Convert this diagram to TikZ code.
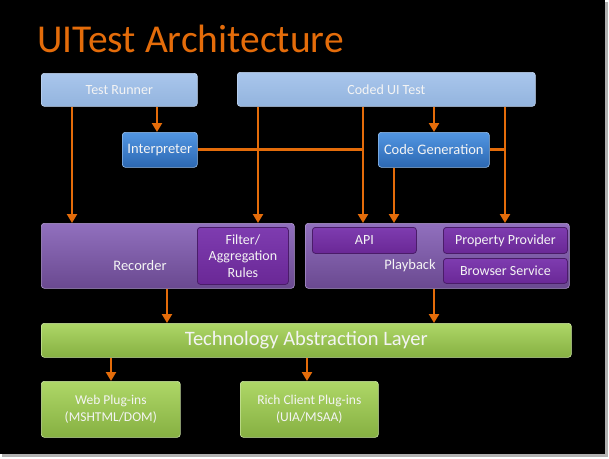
\documentclass[tikz,border=0pt]{standalone}
\usepackage{fontspec}
\setmainfont{Carlito}
\usetikzlibrary{arrows.meta}
\definecolor{orng}{HTML}{E46C0A}
\definecolor{lbtop}{HTML}{A9C6EC}
\definecolor{lbbot}{HTML}{93B4DE}
\definecolor{bltop}{HTML}{5296E2}
\definecolor{blbot}{HTML}{2C68B2}
\definecolor{putop}{HTML}{9170BE}
\definecolor{pubot}{HTML}{6A4990}
\definecolor{pitop}{HTML}{7E3CB0}
\definecolor{pibot}{HTML}{6A2896}
\definecolor{grtop}{HTML}{AED767}
\definecolor{grbot}{HTML}{86B042}
\definecolor{txtw}{HTML}{F4F4F4}
\tikzset{
  x=1pt, y=-1pt,
  box/.style={rounded corners=3pt, anchor=north west, inner sep=0pt, text=txtw,
    font=\fontsize{14}{16.5}\selectfont, align=center},
  lbox/.style={box, top color=lbtop, bottom color=lbbot, draw=lbtop!70!white, line width=0.6pt},
  bbox/.style={box, top color=bltop, bottom color=blbot, draw=bltop!60!white, line width=0.6pt, font=\fontsize{14.5}{16.5}\selectfont},
  pbox/.style={box, top color=putop, bottom color=pubot, draw=putop!70!white, line width=0.6pt},
  ibox/.style={box, top color=pitop, bottom color=pibot, draw=pibot!70!black, line width=0.8pt},
  gbox/.style={box, top color=grtop, bottom color=grbot, draw=grtop!60!white, line width=0.6pt},
  lbl/.style={text=txtw, font=\fontsize{14.5}{16.5}\selectfont, inner sep=0pt},
  arr/.style={draw=orng, line width=2.8pt, -{Triangle[width=10pt,length=9pt]}},
  ln/.style={draw=orng, line width=2.8pt},
}
\begin{document}
\begin{tikzpicture}
\useasboundingbox (0,0) rectangle (609,458);
\fill[white] (0,0) rectangle (609,458);
\fill[gray!60] (2,2) rectangle (608,457);
\fill[black] (0,0) rectangle (605,454);

\node[anchor=base west, text=orng, font=\fontsize{39.5}{42}\selectfont, inner sep=0pt] (title) at (37,52) {UITest Architecture};

% top row
\node[lbox, minimum width=156, minimum height=33] (tr) at (41,73) {Test Runner};
\node[lbox, minimum width=298, minimum height=34] (cut) at (237,72) {Coded UI Test};

% blue boxes
\node[bbox, minimum width=75, minimum height=35] (interp) at (122,132) {Interpreter};
\node[bbox, minimum width=111, minimum height=35] (cg) at (378,132) {Code Generation};

% recorder
\node[pbox, minimum width=253, minimum height=65] (rec) at (41,223) {};
\node[lbl] (rectxt) at (140,266) {Recorder};
\node[ibox, minimum width=91, minimum height=57] (filt) at (197,227) {Filter/\\Aggregation\\Rules};

% playback
\node[pbox, minimum width=264, minimum height=65] (play) at (305,223) {};
\node[lbl] (playtxt) at (410,266) {Playback};
\node[ibox, minimum width=104, minimum height=26] (api) at (312,227) {API};
\node[ibox, minimum width=124, minimum height=26] (pp) at (443,227) {Property Provider};
\node[ibox, minimum width=124, minimum height=25] (bs) at (443,258) {Browser Service};

% TAL
\node[gbox, minimum width=530, minimum height=34, font=\fontsize{20.5}{22}\selectfont] (tal) at (41,323) {Technology Abstraction Layer};
\node[gbox, minimum width=139, minimum height=56, font=\fontsize{13.5}{17}\selectfont] (web) at (41,381) {Web Plug-ins\\(MSHTML/DOM)};
\node[gbox, minimum width=138, minimum height=56, font=\fontsize{13.5}{17}\selectfont] (rich) at (240,381) {Rich Client Plug-ins\\(UIA/MSAA)};

% x positions
\coordinate (x72) at (72,0);
\coordinate (x157) at (157,0);
\coordinate (x258) at (258,0);
\coordinate (x363) at (363,0);
\coordinate (x394) at (394,0);
\coordinate (x434) at (434,0);
\coordinate (x505) at (505,0);
\coordinate (x167) at (167,0);
\coordinate (x111) at (111,0);
\coordinate (x307) at (307,0);

% connectors
\draw[arr] (tr.south -| x72) -- (rec.north -| x72);
\draw[arr] (tr.south -| x157) -- (interp.north -| x157);
\draw[arr] (cut.south -| x258) -- (rec.north -| x258);
\draw[arr] (cut.south -| x363) -- (play.north -| x363);
\draw[arr] (cut.south -| x434) -- (cg.north -| x434);
\draw[arr] (cut.south -| x505) -- (play.north -| x505);
\draw[ln] (interp.east) -- (interp.east -| x363);
\draw[ln] (cg.east) -- (cg.east -| x505);
\draw[arr] (cg.south -| x394) -- (play.north -| x394);
\draw[arr] (rec.south -| x167) -- (tal.north -| x167);
\draw[arr] (play.south -| x434) -- (tal.north -| x434);
\draw[arr] (tal.south -| x111) -- (web.north -| x111);
\draw[arr] (tal.south -| x307) -- (rich.north -| x307);
\end{tikzpicture}
\end{document}
